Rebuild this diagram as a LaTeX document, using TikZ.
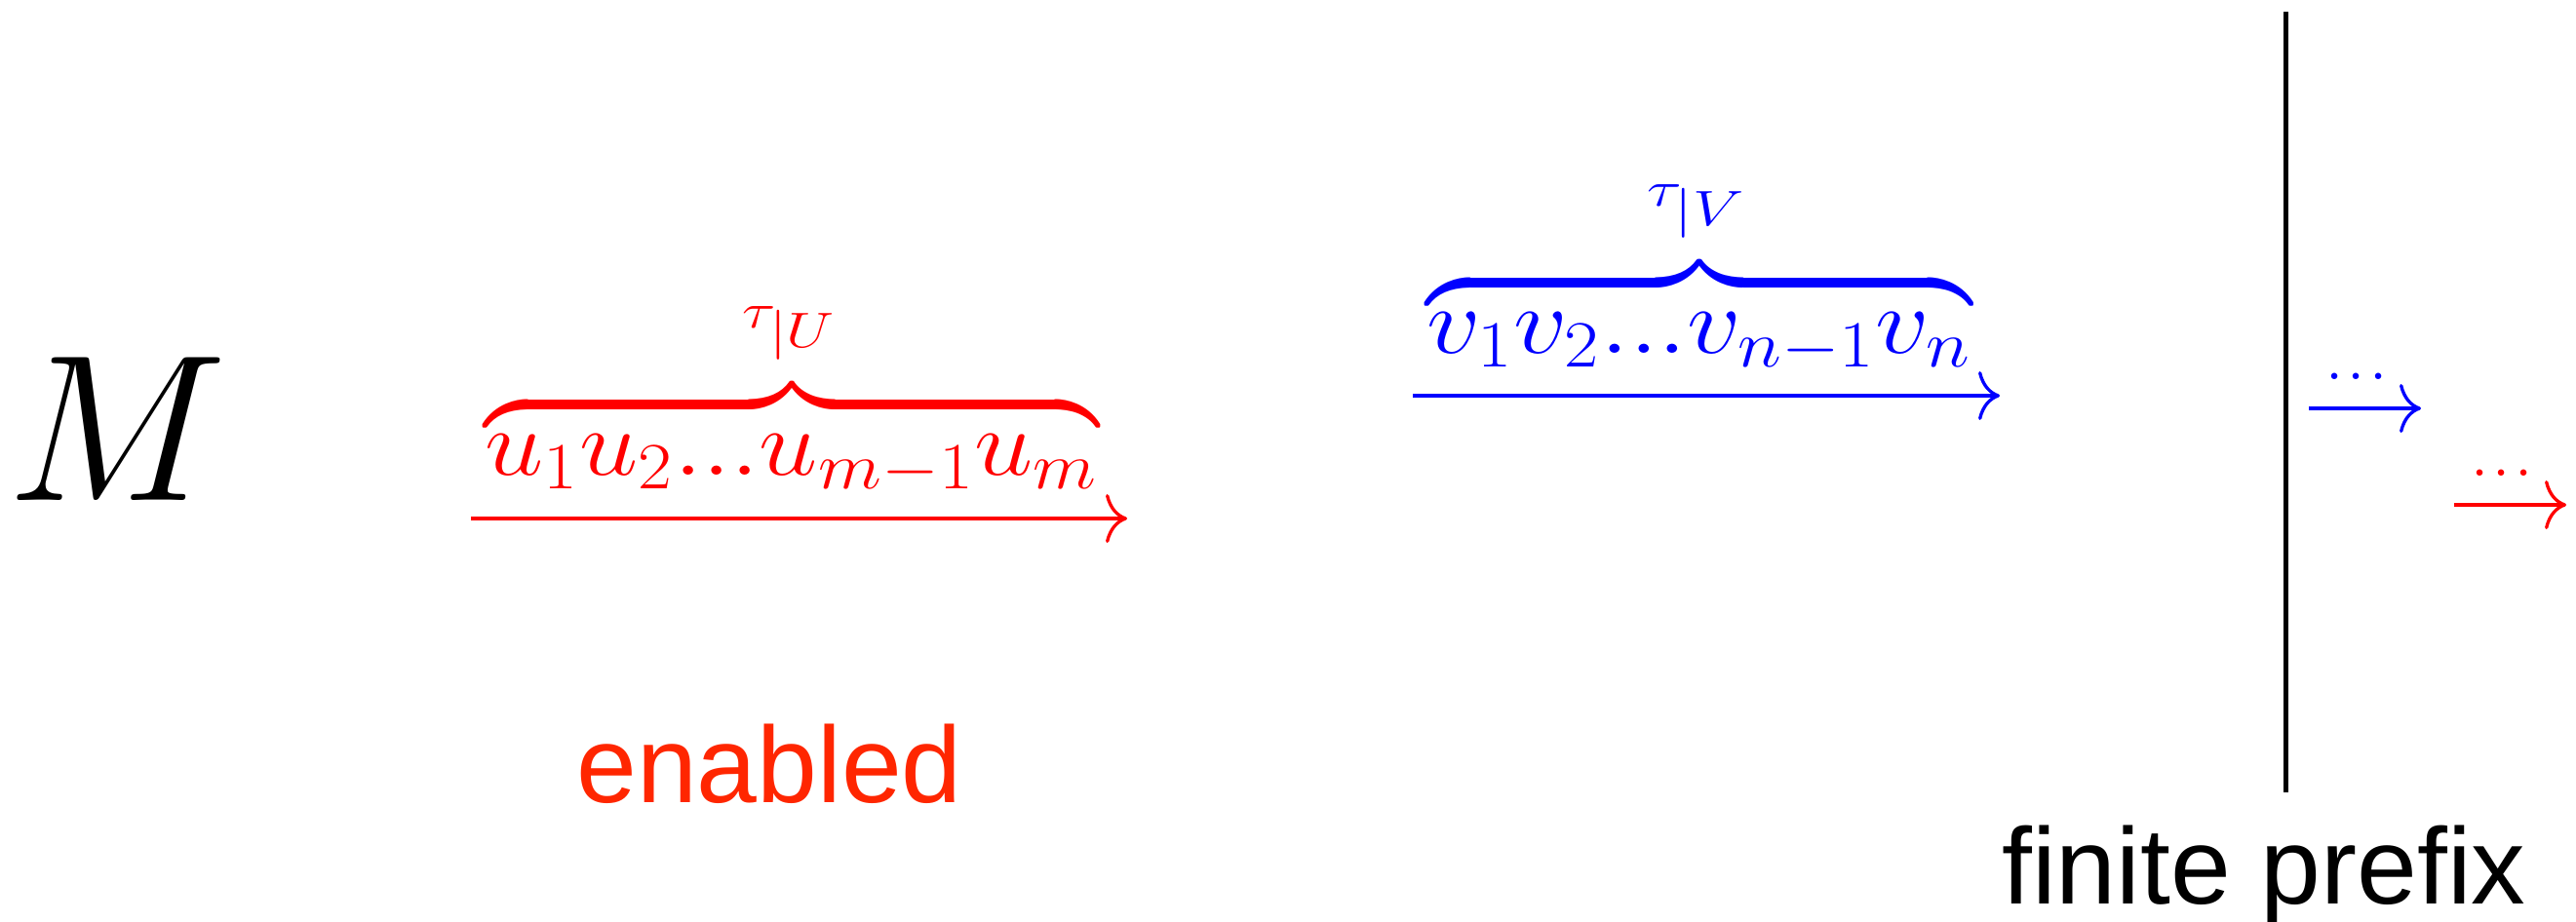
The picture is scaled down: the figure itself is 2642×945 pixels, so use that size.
\documentclass[tikz,border=0pt]{standalone}
\usepackage{fix-cm}
\usepackage{amsmath}
\usepackage{graphicx}
\usepackage{fontspec}
\newfontfamily\labelfont{Liberation Sans}
\usetikzlibrary{arrows.meta}
\definecolor{enabledred}{RGB}{255,38,0}
\newcommand{\fsz}[1]{\fontsize{#1}{#1}\selectfont}
\newcommand{\lift}{\rule{0pt}{0.56cm}}
\newcommand{\tdots}{.\mkern1.1mu.\mkern1.1mu.}

\begin{document}
\begin{tikzpicture}[x=0.01cm, y=-0.01cm, >={Computer Modern Rightarrow[length=0.22cm,width=0.5cm]},
    every node/.style={inner sep=0pt}]
    \useasboundingbox (0,0) rectangle (2642,945);

    \node[anchor=base] (m) at (120,513) {\fsz{61}$M$};

    % the enabled run
    \node[anchor=base, red] (uword) at (812,487) {\resizebox{6.29cm}{\height}{\fsz{27.5}$\overbrace{\lift u_1u_2...u_{m-1}u_m}$}};
    \node[anchor=base, red] (ulabel) at (810,336) {\resizebox{0.96cm}{\height}{\fsz{14.5}$\tau_{\textstyle|U}$}};
    \coordinate (ua) at (483,532);
    \coordinate (ub) at (1156,532);
    \draw[->, red, line width=0.94pt] (ua) -- (ub);
    \node[anchor=base, text=enabledred] (enabled) at (789,823) {\labelfont\fsz{31.6}enabled};

    % the second run
    \node[anchor=base, blue] (vword) at (1743,362) {\resizebox{5.58cm}{\height}{\fsz{27.5}$\overbrace{\lift v_1v_2...v_{n-1}v_n}$}};
    \node[anchor=base, blue] (vlabel) at (1740,211) {\resizebox{1.01cm}{\height}{\fsz{14.5}$\tau_{\textstyle|V}$}};
    \coordinate (va) at (1449,406);
    \coordinate (vb) at (2051,406);
    \draw[->, blue, line width=0.94pt] (va) -- (vb);

    % cut after the finite prefix
    \coordinate (cuttop) at (2344,12);
    \coordinate (cutbot) at (2344,813);
    \draw[line width=1.42pt] (cuttop) -- (cutbot);
    \node[anchor=base] (prefix) at (2322,927) {\labelfont\fsz{31.6}finite prefix};

    % continuations
    \node[anchor=base, blue] (vdots) at (2417,389) {\fsz{19}$\tdots$};
    \coordinate (vc) at (2368,419);
    \coordinate (vd) at (2483,419);
    \draw[->, blue, line width=0.94pt] (vc) -- (vd);
    \node[anchor=base, red] (udots) at (2566,488) {\fsz{19}$\tdots$};
    \coordinate (uc) at (2517,518);
    \coordinate (ud) at (2632,518);
    \draw[->, red, line width=0.94pt] (uc) -- (ud);
\end{tikzpicture}
\end{document}
